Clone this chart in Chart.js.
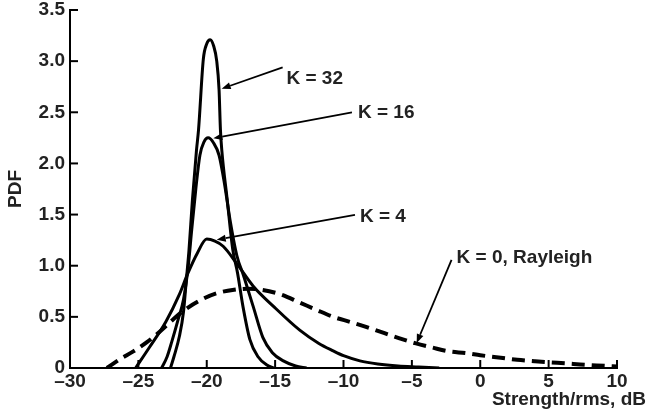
<!DOCTYPE html>
<html>
<head>
<meta charset="utf-8">
<script src="https://cdn.jsdelivr.net/npm/chart.js@4.4.1/dist/chart.umd.min.js"></script>
<style>
  html, body { margin: 0; padding: 0; background: #fff; }
</style>
</head>
<body>
<canvas id="pdfChart" width="646" height="414"></canvas>
<script>
// axis ticks
const xTicks = [-30, -25, -20, -15, -10, -5, 0, 5, 10];
const yTicks = [0, 0.5, 1, 1.5, 2, 2.5, 3, 3.5];

// K = 0 (Rayleigh), dashed
const rayleighX = [-27.3, -26.3, -25.4, -24.4, -23.4, -22.5, -21.7, -20.5, -19.3, -18, -17, -16, -14.6, -13.2, -12, -10.75, -9.5, -8.3, -7, -5.9, -4.7, -3.5, -2.4, -1, 0, 1.5, 2.7, 4, 5.1, 6.3, 7.3, 8.5, 10];
const rayleighY = [0, 0.09, 0.16, 0.25, 0.36, 0.47, 0.56, 0.66, 0.73, 0.765, 0.775, 0.765, 0.72, 0.64, 0.57, 0.5, 0.45, 0.4, 0.34, 0.29, 0.24, 0.2, 0.165, 0.145, 0.125, 0.1, 0.08, 0.065, 0.055, 0.045, 0.035, 0.025, 0.015];

// K = 4
const k4X = [-25.2, -24.2, -23, -22, -21.4, -20.7, -20, -19.4, -18.8, -17.8, -16.6, -15.1, -13.2, -11.8, -10.8, -10, -8.8, -7.5, -6, -4.5, -3];
const k4Y = [0, 0.2, 0.45, 0.72, 0.92, 1.12, 1.26, 1.24, 1.19, 1.02, 0.8, 0.6, 0.37, 0.24, 0.17, 0.12, 0.07, 0.04, 0.02, 0.01, 0];

// K = 16
const k16X = [-23.3, -22.9, -22.55, -22.1, -21.7, -21.35, -21.1, -20.8, -20.5, -20.2, -19.9, -19.5, -19.1, -18.7, -18.3, -17.8, -17.3, -16.6, -15.9, -15.2, -14.4, -13.5, -12.7];
const k16Y = [0, 0.11, 0.26, 0.47, 0.67, 1.0, 1.35, 1.75, 2.08, 2.21, 2.25, 2.2, 2.08, 1.8, 1.45, 1.1, 0.9, 0.6, 0.3, 0.15, 0.07, 0.02, 0];

// K = 32
const k32X = [-22.65, -22.4, -22, -21.7, -21.5, -21.3, -21.05, -20.75, -20.6, -20.25, -20, -19.75, -19.5, -19.27, -19.1, -19, -18.9, -18.5, -18.1, -17.75, -17.35, -16.85, -16.25, -15.6, -15.1];
const k32Y = [0, 0.11, 0.31, 0.55, 0.85, 1.15, 1.64, 2.13, 2.33, 3.02, 3.17, 3.21, 3.15, 3.0, 2.72, 2.33, 2.13, 1.64, 1.16, 0.93, 0.6, 0.28, 0.11, 0.03, 0];

const pts = (xs, ys) => xs.map((x, i) => ({ x, y: ys[i] }));

const TXT = '#222';
const FAMILY = '"Liberation Sans", Arial, sans-serif';
const FONT = 'bold 19px ' + FAMILY;

// callouts in data units: text anchor, line start, arrow tip
const callouts = [
  { text: 'K = 32', tx: -14.17, ty: 2.83, sx: -14.45, sy: 2.94, ex: -18.91, ey: 2.73 },
  { text: 'K = 16', tx: -8.94, ty: 2.50, sx: -9.38, sy: 2.50, ex: -19.52, ey: 2.246 },
  { text: 'K = 4', tx: -8.8, ty: 1.48, sx: -9.16, sy: 1.497, ex: -19.27, ey: 1.253 },
  { text: 'K = 0, Rayleigh', tx: -1.73, ty: 1.074, sx: -2.1, sy: 1.058, ex: -4.65, ey: 0.244 }
];

const decor = {
  id: 'decor',
  afterDraw(chart) {
    const { ctx, chartArea, scales: { x, y } } = chart;
    ctx.save();
    // inward ticks
    ctx.strokeStyle = '#000';
    ctx.lineWidth = 2;
    xTicks.forEach(v => {
      const px = x.getPixelForValue(v);
      ctx.beginPath(); ctx.moveTo(px, chartArea.bottom); ctx.lineTo(px, chartArea.bottom - 8); ctx.stroke();
    });
    yTicks.forEach(v => {
      const py = y.getPixelForValue(v);
      ctx.beginPath(); ctx.moveTo(chartArea.left, py); ctx.lineTo(chartArea.left + 8, py); ctx.stroke();
    });

    // callouts
    ctx.font = FONT;
    ctx.fillStyle = TXT;
    ctx.textBaseline = 'middle';
    ctx.textAlign = 'left';
    callouts.forEach(c => {
      const sx = x.getPixelForValue(c.sx), sy = y.getPixelForValue(c.sy);
      const ex = x.getPixelForValue(c.ex), ey = y.getPixelForValue(c.ey);
      ctx.fillText(c.text, x.getPixelForValue(c.tx), y.getPixelForValue(c.ty));
      ctx.strokeStyle = '#000';
      ctx.lineWidth = 1.8;
      const a = Math.atan2(ey - sy, ex - sx);
      const hl = 9, hw = 3.5;
      const bx = ex - hl * Math.cos(a), by = ey - hl * Math.sin(a);
      ctx.beginPath(); ctx.moveTo(sx, sy); ctx.lineTo(bx, by); ctx.stroke();
      ctx.fillStyle = '#000';
      ctx.beginPath();
      ctx.moveTo(ex, ey);
      ctx.lineTo(bx + hw * Math.sin(a), by - hw * Math.cos(a));
      ctx.lineTo(bx - hw * Math.sin(a), by + hw * Math.cos(a));
      ctx.closePath(); ctx.fill();
      ctx.fillStyle = TXT;
    });

    // x axis title, bottom right
    ctx.textAlign = 'right';
    ctx.fillText('Strength/rms, dB', 646, 400);
    ctx.restore();
  }
};

const line = (data, dashed) => ({
  data,
  borderColor: '#000',
  borderWidth: dashed ? 4 : 3,
  borderDash: dashed ? [13, 7] : [],
  pointRadius: 0,
  showLine: true,
  fill: false,
  cubicInterpolationMode: 'monotone'
});

new Chart(document.getElementById('pdfChart'), {
  type: 'scatter',
  data: {
    datasets: [
      line(pts(rayleighX, rayleighY), true),
      line(pts(k4X, k4Y), false),
      line(pts(k16X, k16Y), false),
      line(pts(k32X, k32Y), false)
    ]
  },
  options: {
    responsive: false,
    animation: false,
    layout: { padding: { left: 0, right: 29, top: 10, bottom: 0 } },
    plugins: { legend: { display: false }, tooltip: { enabled: false } },
    scales: {
      x: {
        type: 'linear', min: -30, max: 10,
        afterBuildTicks: s => { s.ticks = xTicks.map(v => ({ value: v })); },
        afterFit: s => { s.height = 46; },
        grid: { drawOnChartArea: false, drawTicks: false },
        border: { display: true, color: '#000', width: 2 },
        ticks: {
          padding: 4, color: TXT, maxRotation: 0,
          font: { family: FAMILY, size: 19, weight: 'bold', lineHeight: 1 },
          callback: v => v < 0 ? '\u2013' + Math.abs(v) : String(v)
        }
      },
      y: {
        min: 0, max: 3.5,
        afterBuildTicks: s => { s.ticks = yTicks.map(v => ({ value: v })); },
        afterFit: s => { s.width = 70; s.paddingTop = 0; s.paddingBottom = 0; },
        grid: { drawOnChartArea: false, drawTicks: false },
        border: { display: true, color: '#000', width: 2 },
        title: {
          display: true, text: 'PDF', color: TXT, padding: { top: 4, bottom: 0 },
          font: { family: FAMILY, size: 19, weight: 'bold' }
        },
        ticks: {
          padding: 5, color: TXT,
          font: { family: FAMILY, size: 19, weight: 'bold', lineHeight: 1 },
          callback: v => v === 0 ? '0' : v.toFixed(1)
        }
      }
    }
  },
  plugins: [decor]
});
</script>
</body>
</html>
